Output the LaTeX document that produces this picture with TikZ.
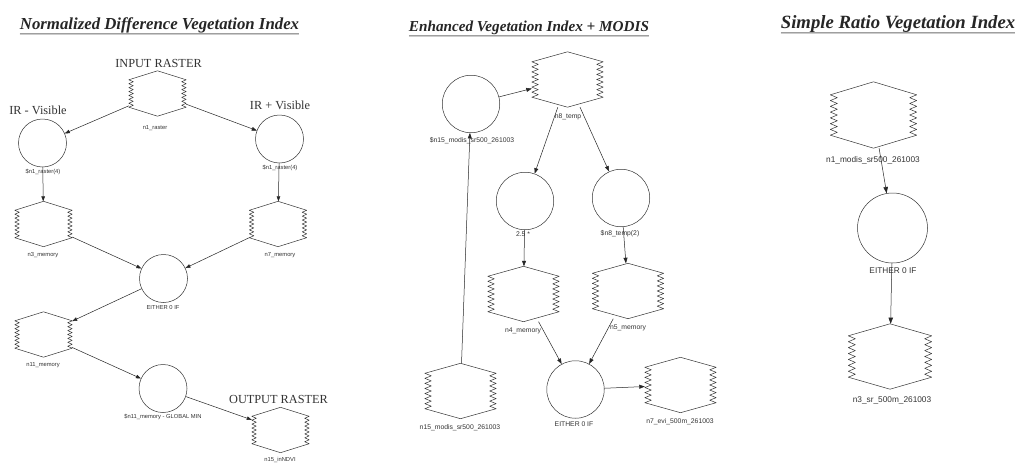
\documentclass[tikz,border=0pt]{standalone}
\usepackage{fontspec}
\setmainfont{Liberation Serif}
\newfontfamily\lblfont{Liberation Sans}
\usetikzlibrary{arrows.meta,calc}

\tikzset{
  ttl/.style={font=\fontsize{#1}{#1}\selectfont\bfseries\itshape, inner sep=0pt, anchor=base, text=black!85},
  hdg/.style={font=\fontsize{12.3}{14}\selectfont, inner sep=0pt, anchor=base, text=black!80},
  lbl/.style={font=\lblfont\fontsize{#1}{#1}\selectfont, inner sep=0pt, text=black!80},
  proc/.style={circle, draw=black!80, line width=0.5pt, minimum size=#1pt, inner sep=0pt},
  raster/.style 2 args={rectangle, minimum width=#1pt, minimum height=#2pt, inner sep=0pt},
  outline/.style={draw=black!80, line width=0.5pt, line join=round},
  flow/.style={draw=black!85, line width=0.5pt, -{Triangle[length=5pt, width=3.6pt, scale=#1]}},
  flow/.default=1,
  ulinedark/.style={draw=gray!75, line width=0.9pt},
  ulinelight/.style={draw=gray!40, line width=0.9pt},
}

% raster symbol: hexagon whose vertical sides are saw-toothed
% #1 node name, #2 corner drop, #3 tooth depth, #4 number of half teeth (even)
\newcommand\rasterhex[4]{%
  \coordinate (#1-tl) at ($(#1.north west)+(0,#2)$);
  \coordinate (#1-tr) at ($(#1.north east)+(0,#2)$);
  \coordinate (#1-bl) at ($(#1.south west)+(0,-#2)$);
  \coordinate (#1-br) at ($(#1.south east)+(0,-#2)$);
  \draw[outline] (#1-tl) -- (#1.north) -- (#1-tr)
    \foreach \k [evaluate=\k as \s using {mod(\k,2)*#3}] in {1,...,#4} {
      -- ($(#1-tr)!\k/#4!(#1-br)+(-\s,0)$) }
    -- (#1.south) -- (#1-bl)
    \foreach \k [evaluate=\k as \s using {mod(\k,2)*#3}] in {1,...,#4} {
      -- ($(#1-bl)!\k/#4!(#1-tl)+(\s,0)$) }
    -- cycle;
}

\begin{document}
\begin{tikzpicture}[x=1pt, y=-1pt]
\fill[white] (0,0) rectangle (1020,463);
\useasboundingbox (0,0) rectangle (1020,463);

% ---------------- titles ----------------
\node[ttl=16.8] (t1) at (159.5,29) {Normalized Difference Vegetation Index};
\node[ttl=15.2] (t2) at (529,31) {Enhanced Vegetation Index + MODIS};
\node[ttl=18.7] (t3) at (898,28) {Simple Ratio Vegetation Index};
\foreach \t in {t1,t2,t3}{
  \draw[ulinedark] ([yshift=-4.5pt]\t.base west) -- ([yshift=-4.5pt]\t.base east);
  \draw[ulinelight] ([yshift=-5.6pt]\t.base west) -- ([yshift=-5.6pt]\t.base east);
}

% ---------------- NDVI model ----------------
\node[hdg] (hin)  at (158.5,67)  {INPUT RASTER};
\node[hdg] (hmin) at (38,114)    {IR - Visible};
\node[hdg] (hpl)  at (280,109)   {IR + Visible};
\node[hdg] (hout) at (278.5,403) {OUTPUT RASTER};

\node[raster={57}{45}] (r1)  at (157.5,93.5) {};
\node[raster={57}{45}] (r3)  at (43.5,224)   {};
\node[raster={57}{45}] (r7)  at (278,224)    {};
\node[raster={57}{45}] (r11) at (43.5,334.5) {};
\node[raster={57}{45}] (r15) at (280.5,430)  {};
\foreach \n in {r1,r3,r7,r11,r15}{\rasterhex{\n}{9}{4.5}{14}}

\node[proc=48] (cL) at (42.5,143)   {};
\node[proc=48] (cR) at (279.5,139)  {};
\node[proc=48] (cE) at (163.5,278.5) {};
\node[proc=48] (cG) at (163,388.5)  {};

\node[lbl=5.8] (lr1)  at (155,128)   {n1\_raster};
\node[lbl=5.8] (lcL)  at (43,172)    {\$n1\_raster(4)};
\node[lbl=5.8] (lcR)  at (280,168)   {\$n1\_raster(4)};
\node[lbl=5.8] (lr3)  at (43,255)    {n3\_memory};
\node[lbl=5.8] (lr7)  at (280,255)   {n7\_memory};
\node[lbl=5.8] (lcE)  at (163,307)   {EITHER 0 IF};
\node[lbl=5.8] (lr11) at (43,365)    {n11\_memory};
\node[lbl=5.8] (lcG)  at (163,417)   {\$n11\_memory - GLOBAL MIN};
\node[lbl=5.8] (lr15) at (280,460)   {n15\_inNDVI};

\draw[flow] (r1) -- (cL);
\draw[flow] (r1) -- (cR);
\draw[flow] (cL) -- (r3);
\draw[flow] (cR) -- (r7);
\draw[flow] (r3) -- (cE);
\draw[flow] (r7) -- (cE);
\draw[flow] (cE) -- (r11);
\draw[flow] (r11) -- (cG);
\draw[flow] (cG) -- (r15);

% ---------------- EVI model ----------------
\node[raster={71}{55}] (m8)  at (567.5,79.5) {};
\node[raster={71}{55}] (m4)  at (523.5,294)  {};
\node[raster={71}{55}] (m5)  at (628,291)    {};
\node[raster={71}{55}] (m15) at (460.5,391)  {};
\node[raster={71}{55}] (m7)  at (680.5,385)  {};
\foreach \n in {m8,m4,m5,m15,m7}{\rasterhex{\n}{10}{6.5}{14}}

\node[proc=57.5] (c15) at (471,104)    {};
\node[proc=57.5] (c25) at (525,201)    {};
\node[proc=57.5] (c8t) at (621,198)    {};
\node[proc=57.5] (cE2) at (575.5,389.5) {};

\node[lbl=6.8] (lc15) at (472,141) {\$n15\_modis\_sr500\_261003};
\node[lbl=6.8] (lm8)  at (568,117) {n8\_temp};
\node[lbl=6.8] (lc25) at (523,234) {2.5 *};
\node[lbl=6.8] (lc8t) at (620,234) {\$n8\_temp(2)};
\node[lbl=6.8] (lm4)  at (523,331) {n4\_memory};
\node[lbl=6.8] (lm5)  at (628,328) {n5\_memory};
\node[lbl=6.8] (lm15) at (460,428) {n15\_modis\_sr500\_261003};
\node[lbl=6.8] (lcE2) at (574,424) {EITHER 0 IF};
\node[lbl=6.8] (lm7)  at (680,422) {n7\_evi\_500m\_261003};

\draw[flow=1.1] (m15) -- (c15);
\draw[flow=1.1] (c15) -- (m8);
\draw[flow=1.1] (m8) -- (c25);
\draw[flow=1.1] (m8) -- (c8t);
\draw[flow=1.1] (c25) -- (m4);
\draw[flow=1.1] (c8t) -- (m5);
\draw[flow=1.1] (m4) -- (cE2);
\draw[flow=1.1] (m5) -- (cE2);
\draw[flow=1.1] (cE2) -- (m7);

% ---------------- SR model ----------------
\node[raster={86}{66}] (s1) at (873.5,115)  {};
\node[raster={83}{65}] (s3) at (890,356.5) {};
\rasterhex{s1}{13}{7}{14}
\rasterhex{s3}{12}{7}{14}

\node[proc=70] (sc) at (892.5,228) {};

\node[lbl=8.3] (ls1) at (873,160) {n1\_modis\_sr500\_261003};
\node[lbl=8.3] (lsc) at (893,271) {EITHER 0 IF};
\node[lbl=8.3] (ls3) at (892,400) {n3\_sr\_500m\_261003};

\draw[flow=1.25] (s1) -- (sc);
\draw[flow=1.25] (sc) -- (s3);
\end{tikzpicture}
\end{document}
